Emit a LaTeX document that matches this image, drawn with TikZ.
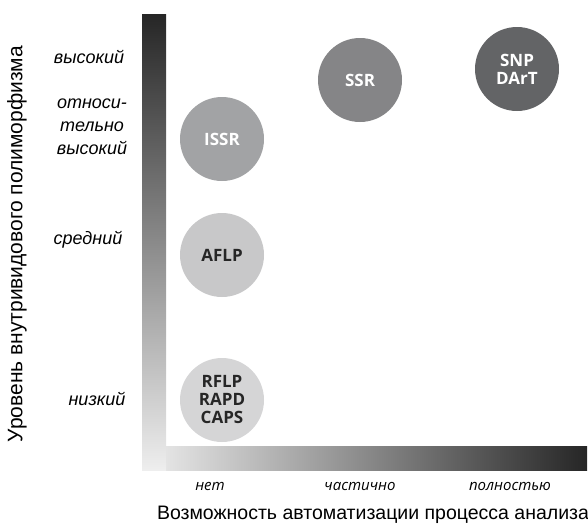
\documentclass[tikz,border=0pt]{standalone}
\usepackage{fontspec}
\setmainfont{Liberation Sans}
\newfontfamily\circfont{Open Sans}
\newfontfamily\levfont{Liberation Sans}
\usetikzlibrary{positioning}
\definecolor{cSNP}{HTML}{636466}
\definecolor{cSSR}{HTML}{858587}
\definecolor{cISSR}{HTML}{A2A3A5}
\definecolor{cAFLP}{HTML}{C8C8C9}
\definecolor{cRFLP}{HTML}{D5D5D6}
\definecolor{barDark}{HTML}{262626}
\definecolor{barLight}{HTML}{EEEEEE}
\tikzset{
  marker/.style={circle, minimum size=84pt, inner sep=0pt, align=center,
    font=\circfont\bfseries\fontsize{17}{18}\selectfont},
  levlabel/.style={font=\levfont\itshape\fontsize{18}{23}\selectfont, align=center},
  autolabel/.style={font=\circfont\itshape\fontsize{15}{18}\selectfont},
  axistitle/.style={font=\fontsize{19.5}{22}\selectfont}
}
\begin{document}
\begin{tikzpicture}[x=1pt,y=-1pt]
\useasboundingbox (0,0) rectangle (588,525);
% axis bars
\shade[left color=barLight, right color=barDark] (142,446) rectangle (587,470);
\shade[top color=barDark, bottom color=barLight] (142,14) rectangle (166,470);
% circles
\node[marker, fill=cSNP, text=white] (snp) at (517,69) {SNP\\DArT};
\node[marker, fill=cSSR, text=white] (ssr) at (360,80) {SSR};
\node[marker, fill=cISSR, text=white] (issr) at (222,139) {ISSR};
\node[marker, fill=cAFLP, text=black!85] (aflp) at (222,255) {AFLP};
\node[marker, fill=cRFLP, text=black!85] (rflp) at (222,400) {RFLP\\RAPD\\CAPS};
% level labels
\node[levlabel] (l1) at (89,57) {высокий};
\node[levlabel] (l2) at (92,127) {относи-\\тельно\\высокий};
\node[levlabel] (l3) at (88,240) {средний};
\node[levlabel] (l4) at (97,399) {низкий};
% automation labels
\node[autolabel] (a1) at (210,486) {нет};
\node[autolabel] (a2) at (360,486) {частично};
\node[autolabel] (a3) at (510,486) {полностью};
% axis titles
\node[axistitle] (xt) at (373,515) {Возможность автоматизации процесса анализа};
\node[axistitle, font=\fontsize{21}{24}\selectfont, rotate=90] (yt) at (17,244) {Уровень внутривидового полиморфизма};
\end{tikzpicture}
\end{document}
